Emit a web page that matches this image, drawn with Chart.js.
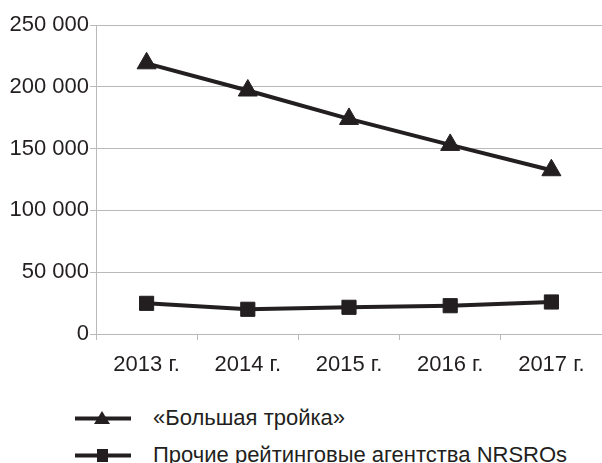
<!DOCTYPE html>
<html><head><meta charset="utf-8">
<script src="https://cdn.jsdelivr.net/npm/chart.js@4.4.0/dist/chart.umd.min.js"></script>
<style>
html,body{margin:0;padding:0;background:#fff;overflow:hidden;}
#wrap{position:relative;width:602px;height:463px;}
#c{position:absolute;left:0;top:0;}
.leg{position:absolute;left:75px;height:24px;display:flex;align-items:center;font:22px "Liberation Sans",Arial,sans-serif;color:#231f20;white-space:nowrap;}
.leg svg{margin-right:22px;flex:none;}
</style></head><body>
<div id="wrap"><canvas id="c" width="602" height="400"></canvas><div id="legend"></div></div>
<script>
const categories = ['2013 г.', '2014 г.', '2015 г.', '2016 г.', '2017 г.'];
const seriesNames = ['«Большая тройка»', 'Прочие рейтинговые агентства NRSROs'];
const bigThree = [219000, 197000, 174000, 153000, 132500];
const others = [24800, 20000, 21600, 22900, 25900];
const yTicks = [0, 50000, 100000, 150000, 200000, 250000];

const INK = '#231f20';
const GRID = '#b9b9b9';
const fmt = v => String(v).replace(/\B(?=(\d{3})+(?!\d))/g, ' ');

Chart.defaults.font.family = '"Liberation Sans", Arial, sans-serif';
Chart.defaults.font.size = 22;
Chart.defaults.color = INK;

new Chart(document.getElementById('c'), {
  type: 'line',
  data: {
    labels: categories,
    datasets: [
      { label: seriesNames[0], data: bigThree, borderColor: INK, backgroundColor: INK, borderWidth: 4,
        pointStyle: 'triangle', pointRadius: 11, pointBorderWidth: 1, pointBackgroundColor: INK, pointBorderColor: INK, tension: 0 },
      { label: seriesNames[1], data: others, borderColor: INK, backgroundColor: INK, borderWidth: 4,
        pointStyle: 'rect', pointRadius: 10, pointBorderWidth: 1, pointBackgroundColor: INK, pointBorderColor: INK, tension: 0 }
    ]
  },
  options: {
    responsive: false,
    animation: false,
    devicePixelRatio: 1,
    layout: { autoPadding: false, padding: { top: 25, right: 0, left: 0, bottom: 0 } },
    plugins: { legend: { display: false }, tooltip: { enabled: false } },
    scales: {
      x: {
        offset: true,
        grid: { offset: true, drawOnChartArea: false, color: GRID, tickLength: 6, lineWidth: 1 },
        border: { color: GRID, width: 1 },
        ticks: { padding: 12, maxRotation: 0, autoSkip: false },
        afterFit: s => { s.height = 66; s.paddingLeft = 0; s.paddingRight = 0; }
      },
      y: {
        min: 0, max: 250000,
        grid: { color: GRID, tickLength: 6, lineWidth: 1 },
        border: { color: GRID, width: 1 },
        ticks: { padding: 1, callback: v => fmt(v) },
        afterBuildTicks: s => { s.ticks = yTicks.map(v => ({ value: v })); },
        afterFit: s => { s.width = 96; }
      }
    }
  }
});

// legend
const markers = [
  '<polygon points="27,3 35,16 19,16" fill="' + INK + '"/>',
  '<rect x="22" y="4" width="11" height="13" fill="' + INK + '"/>'
];
const legendTops = [406, 443];
const legend = document.getElementById('legend');
seriesNames.forEach((name, i) => {
  const row = document.createElement('div');
  row.className = 'leg';
  row.style.top = legendTops[i] + 'px';
  row.innerHTML = '<svg width="56" height="20" viewBox="0 0 56 20"><line x1="0" y1="10.5" x2="56" y2="10.5" stroke="' + INK + '" stroke-width="4"/>' + markers[i] + '</svg>';
  const span = document.createElement('span');
  span.textContent = name;
  row.appendChild(span);
  legend.appendChild(row);
});
</script>
</body></html>
